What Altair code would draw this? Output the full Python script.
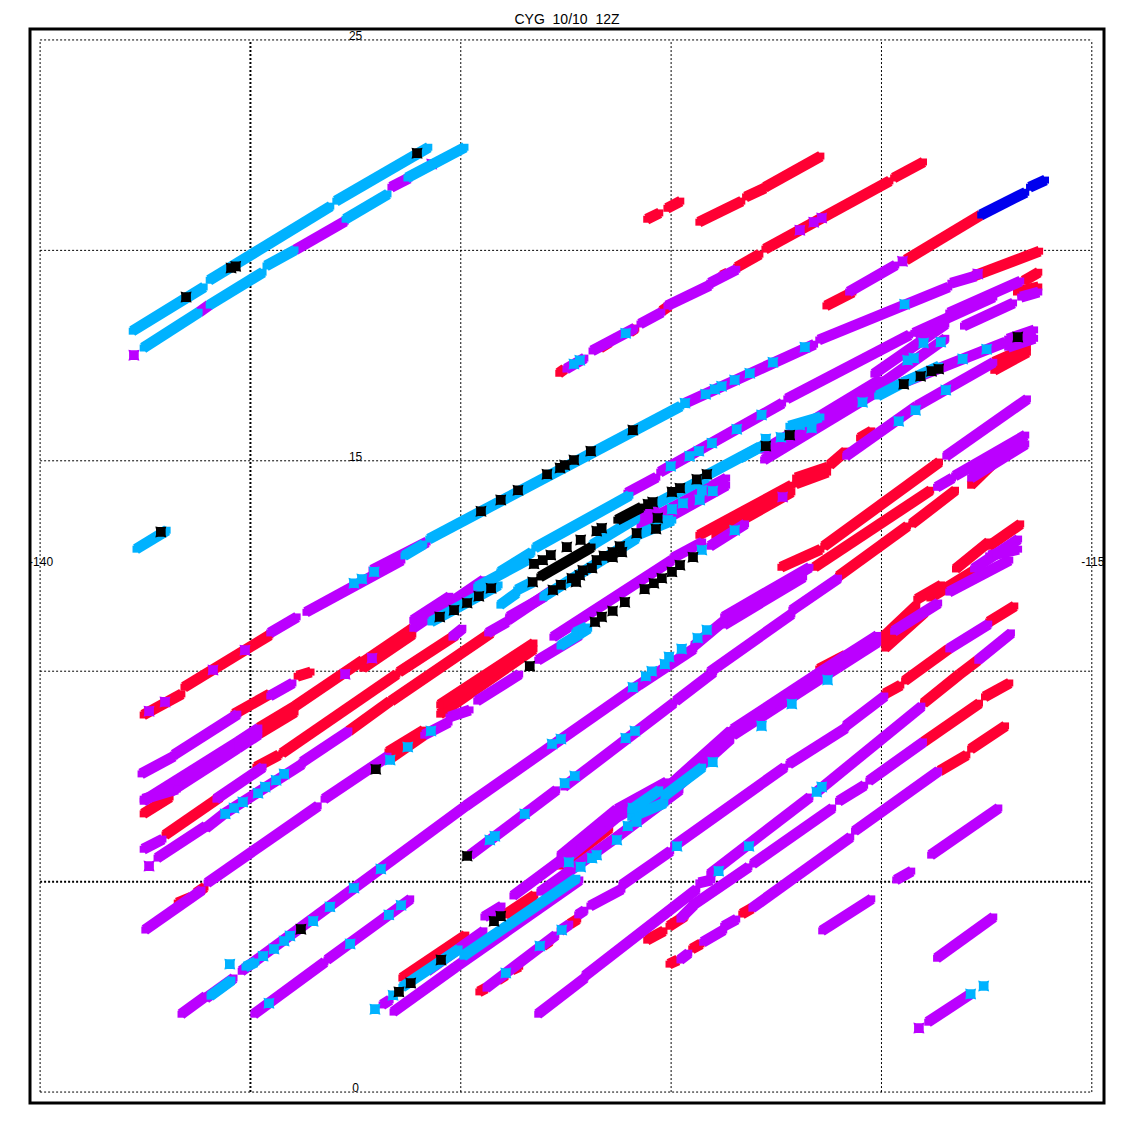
import altair as alt
import pandas as pd

# lon1, lat1, lon2, lat2 of each wind-track piece
red_segments = [
    (-137.55,8.96,-136.63,9.46),(-136.58,9.62,-134.54,10.86),(-135.39,8.98,-134.54,9.46),
    (-133.89,9.88,-133.56,9.98),(-134.80,8.65,-133.94,9.17),(-134.80,8.51,-133.94,9.03),
    (-133.94,9.17,-132.33,10.26),(-132.33,10.21,-131.14,11.02),(-132.33,10.07,-131.14,10.88),
    (-137.55,6.61,-136.91,7.01),(-137.03,6.11,-135.72,7.01),(-134.87,7.72,-134.32,8.01),
    (-134.25,8.05,-131.52,9.93),(-131.66,9.29,-129.28,10.91),(-131.47,9.98,-130.12,10.86),
    (-132.66,8.58,-131.68,9.29),(-131.73,7.89,-130.88,8.48),(-131.73,8.08,-130.88,8.60),
    (-130.50,8.98,-128.26,10.53),(-130.50,9.20,-128.26,10.67),(-136.74,4.49,-136.41,4.63),
    (-136.29,4.73,-136.08,4.87),(-127.67,17.08,-127.53,17.18),(-123.44,19.60,-122.89,19.91),
    (-122.77,20.03,-119.80,21.65),(-119.71,21.72,-119.00,22.10),(-125.58,20.74,-125.27,20.89),
    (-125.10,21.00,-124.77,21.17),(-124.34,20.67,-123.32,21.17),(-123.23,21.27,-122.77,21.48),
    (-122.77,21.50,-121.44,22.24),(-121.32,18.68,-120.68,19.01),(-119.42,19.77,-117.64,20.84),
    (-117.81,19.39,-116.24,19.98),(-116.79,19.01,-116.26,19.13),(-116.62,19.27,-116.26,19.48),
    (-117.33,17.34,-116.53,17.70),(-117.33,17.15,-116.53,17.58),(-121.23,14.90,-120.85,15.23),
    (-120.52,15.54,-120.23,15.71),(-124.34,13.23,-122.13,14.42),(-123.96,13.23,-122.13,14.26),
    (-122.04,14.59,-121.28,14.85),(-122.04,14.45,-121.28,14.73),(-121.37,12.97,-118.62,14.97),
    (-121.59,12.47,-118.83,14.30),(-121.02,12.26,-119.38,13.45),(-119.28,13.50,-118.24,14.30),
    (-122.39,12.47,-121.44,12.90),(-117.88,14.42,-117.33,14.95),(-120.09,10.69,-119.16,11.57),
    (-119.92,10.55,-118.97,11.40),(-119.16,11.71,-118.57,12.05),(-121.49,10.05,-120.85,10.38),
    (-118.24,12.43,-117.45,13.07),(-117.45,12.97,-116.69,13.50),(-118.85,11.74,-117.78,12.40),
    (-119.92,9.46,-119.54,9.67),(-119.45,9.77,-118.40,10.53),(-117.45,11.17,-116.83,11.55),
    (-119.00,8.32,-117.67,9.24),(-117.55,9.39,-116.95,9.72),(-118.62,7.63,-117.97,8.01),
    (-117.88,8.15,-117.05,8.70),(-119.00,9.24,-118.14,9.93),(-118.14,9.93,-117.71,10.26),
    (-131.40,2.71,-129.88,3.73),(-125.05,3.04,-124.84,3.14),(-124.51,3.40,-124.29,3.52),
    (-125.58,3.61,-125.17,3.83),(-123.32,4.23,-123.08,4.37),(-125.05,3.94,-124.67,4.18),
    (-129.57,2.38,-129.40,2.47),(-129.12,2.66,-128.93,2.78),(-128.79,2.90,-128.60,2.99),
    (-128.05,3.47,-127.88,3.59),(-127.41,3.99,-127.22,4.11),(-128.95,4.21,-128.24,4.68),
    (-127.64,5.37,-126.46,6.27),(-126.69,17.68,-126.46,17.82),(-125.98,18.06,-125.84,18.15),
    (-125.22,18.56,-125.05,18.68),(-123.80,19.39,-123.65,19.46),
]

purple_segments = [
    (-134.54,10.91,-133.89,11.29),(-133.68,11.40,-131.40,12.64),(-132.11,12.40,-130.80,13.07),
    (-124.67,16.37,-121.59,17.77),(-121.49,17.87,-118.40,19.13),(-118.35,19.22,-117.76,19.39),
    (-127.50,17.18,-127.05,17.44),(-126.88,17.61,-125.86,18.15),(-125.74,18.25,-125.22,18.53),
    (-125.10,18.68,-124.08,19.17),(-124.08,19.22,-123.44,19.55),(-120.78,19.01,-119.66,19.65),
    (-125.27,14.73,-122.35,16.37),(-122.25,16.47,-119.33,17.99),(-119.23,18.03,-117.33,18.89),
    (-118.40,18.51,-116.69,19.27),(-120.18,17.06,-118.47,18.25),(-120.04,16.80,-118.47,17.91),
    (-118.05,18.20,-116.86,18.75),(-116.69,18.89,-116.26,19.01),(-122.80,15.02,-120.04,16.68),
    (-122.80,15.25,-120.04,16.92),(-119.50,16.85,-117.05,17.82),(-117.00,17.89,-116.36,18.11),
    (-117.00,17.70,-116.36,17.91),(-120.85,15.11,-119.16,16.30),(-119.16,16.30,-117.33,17.34),
    (-126.05,14.23,-125.34,14.61),(-131.14,11.02,-129.45,12.17),(-131.14,11.21,-130.26,11.78),
    (-128.88,11.21,-127.81,11.93),(-125.74,13.28,-123.68,14.42),(-125.74,13.47,-123.68,14.59),
    (-125.79,13.66,-125.34,13.95),(-127.81,10.81,-124.98,12.64),(-124.96,12.69,-124.25,13.07),
    (-124.08,12.97,-123.23,13.50),(-128.86,11.29,-128.00,11.78),(-128.17,10.26,-127.17,10.86),
    (-129.62,9.29,-128.60,9.93),(-130.28,8.91,-129.78,9.08),(-130.88,8.48,-130.28,8.79),
    (-133.25,6.96,-131.73,7.98),(-136.03,4.97,-133.39,6.80),(-137.51,3.85,-136.15,4.80),
    (-137.60,7.56,-136.82,7.98),(-136.82,8.01,-135.30,8.98),(-134.54,9.41,-133.99,9.72),
    (-137.55,6.91,-135.30,8.32),(-136.91,7.13,-135.30,8.17),(-135.30,8.32,-134.80,8.65),
    (-135.30,8.17,-134.80,8.50),(-137.55,6.96,-136.74,7.20),(-136.70,7.29,-136.15,7.67),
    (-135.82,6.96,-134.70,7.72),(-129.36,10.91,-128.90,11.17),(-130.21,10.81,-129.95,11.02),
    (-137.55,5.77,-137.08,6.01),(-137.22,5.56,-136.06,6.32),(-136.06,6.27,-135.63,6.61),
    (-135.63,6.61,-133.77,7.79),(-133.77,7.84,-132.66,8.58),(-135.22,2.87,-129.88,6.80),
    (-129.88,6.80,-125.77,9.67),(-125.77,9.67,-124.46,10.53),(-124.46,10.60,-123.75,11.19),
    (-123.75,11.29,-121.70,12.47),(-123.75,11.10,-121.85,12.24),(-122.13,11.45,-121.02,12.21),
    (-129.78,5.63,-127.72,7.18),(-127.55,7.25,-124.94,9.24),(-124.89,9.29,-123.99,9.98),
    (-124.08,9.98,-122.13,11.36),(-118.69,14.37,-118.31,14.59),(-118.26,14.64,-116.57,15.61),
    (-117.88,14.59,-116.57,15.40),(-118.47,15.11,-116.53,16.47),(-123.53,8.48,-121.42,9.84),
    (-123.53,8.62,-121.42,10.00),(-121.42,9.84,-120.09,10.69),(-121.42,10.00,-120.09,10.85),
    (-119.71,10.95,-118.64,11.62),(-118.40,11.88,-116.95,12.64),(-117.81,12.43,-116.74,13.14),
    (-117.45,12.74,-116.74,12.90),(-125.10,7.03,-123.58,8.39),(-125.10,7.23,-123.58,8.59),
    (-126.29,6.53,-125.10,7.20),(-126.29,6.72,-125.10,7.37),(-127.64,5.42,-126.29,6.53),
    (-127.64,5.61,-126.29,6.72),(-128.76,4.66,-127.17,5.84),(-131.61,1.90,-130.12,2.97),
    (-130.12,2.97,-127.17,5.04),(-130.80,2.87,-129.45,3.83),(-129.45,4.16,-129.02,4.42),
    (-131.87,2.07,-131.68,2.19),(-136.65,1.85,-136.06,2.28),(-136.06,2.23,-135.39,2.71),
    (-134.92,1.85,-133.23,3.09),(-133.18,3.14,-131.19,4.59),(-129.40,2.47,-127.74,3.73),
    (-127.64,3.83,-127.41,3.99),(-127.22,4.21,-127.05,4.32),(-126.93,4.42,-126.17,4.82),
    (-126.17,4.92,-125.01,5.73),(-128.17,1.85,-127.05,2.71),(-127.05,2.76,-124.39,4.82),
    (-124.34,4.97,-124.03,5.04),(-124.08,5.18,-121.70,7.01),(-124.94,5.84,-122.30,7.72),
    (-122.20,7.79,-120.85,8.65),(-120.85,8.70,-119.92,9.41),(-118.40,10.53,-117.45,11.12),
    (-124.51,4.42,-123.15,5.35),(-123.06,5.42,-121.16,6.75),(-121.02,6.91,-120.40,7.29),
    (-120.30,7.39,-119.00,8.32),(-124.79,4.11,-124.46,4.44),(-124.79,3.14,-124.58,3.30),
    (-124.25,3.56,-123.75,3.85),(-123.75,3.94,-123.44,4.11),(-123.08,4.37,-120.73,6.06),
    (-120.64,6.20,-118.64,7.63),(-121.54,7.13,-119.04,9.17),(-117.71,10.26,-116.91,10.91),
    (-121.42,3.83,-120.23,4.59),(-118.83,5.63,-117.21,6.75),(-119.66,5.04,-119.28,5.25),
    (-118.69,3.18,-117.33,4.16),(-118.90,1.66,-117.88,2.33),(-133.94,20.01,-132.75,20.69),
    (-131.66,21.50,-131.23,21.72),(-136.22,18.53,-135.98,18.70),
    (-128.12,4.75,-126.22,6.11),(-126.22,6.11,-124.79,7.18),
]

cyan_segments = [
    (-137.81,18.08,-136.10,19.13),(-135.98,19.29,-133.09,21.05),(-132.97,21.17,-130.76,22.45),
    (-137.55,17.68,-136.22,18.53),(-135.98,18.70,-134.70,19.48),(-134.63,19.63,-133.94,20.01),
    (-132.75,20.74,-131.73,21.34),(-131.28,21.72,-129.90,22.45),(-137.72,12.90,-136.98,13.35),
    (-131.35,12.74,-130.88,13.02),(-130.76,13.14,-124.77,16.30),(-129.07,12.36,-128.31,12.83),
    (-128.24,12.93,-125.98,14.18),(-130.71,11.17,-129.09,12.05),(-129.62,12.00,-128.43,12.64),
    (-129.07,11.57,-128.67,11.86),(-128.67,11.93,-128.29,12.12),(-126.88,13.00,-125.82,13.64),
    (-125.34,13.99,-124.15,14.61),(-124.15,14.66,-122.89,15.33),(-123.37,15.06,-122.80,15.37),
    (-128.05,11.76,-125.82,13.16),(-125.82,13.23,-124.96,13.59),(-127.29,10.91,-127.00,11.05),
    (-127.64,10.60,-126.96,11.02),(-120.09,16.54,-119.50,16.85),(-119.50,16.85,-118.62,17.25),
    (-122.20,15.82,-121.44,16.04),(-125.17,7.03,-124.25,7.72),(-125.96,6.53,-125.15,6.87),
    (-125.96,6.70,-125.27,7.18),
    (-129.95,3.23,-127.24,5.08),(-131.40,2.49,-130.04,3.40),(-135.96,2.28,-135.44,2.66),
    (-135.13,2.97,-134.87,3.09),
]

blue_segments = [(-117.64,20.84,-116.57,21.38),(-116.48,21.50,-116.10,21.67)]
black_segments = [(-128.12,12.24,-126.88,12.95),(-126.29,13.59,-125.70,13.90)]

purple_points = [
    (-137.41,9.05),(-137.03,9.27),(-135.89,10.03),(-135.13,10.50),(-132.75,9.93),(-132.11,10.31),
    (-137.77,17.51),(-121.94,20.48),(-121.61,20.67),(-121.42,20.77),(-119.50,19.74),(-117.71,19.44),
    (-122.35,14.14),(-137.41,5.37),(-119.11,1.52),(-130.69,22.05),
]

cyan_points = [
    (-135.49,3.04),(-132.04,1.97),(-131.61,2.30),(-132.54,12.09),(-132.35,12.19),(-132.06,12.36),
    (-127.31,17.30),(-127.17,17.39),(-126.08,18.03),(-124.67,16.37),(-124.18,16.58),(-123.96,16.70),
    (-123.80,16.77),(-123.49,16.92),(-123.13,17.08),(-122.58,17.34),(-121.82,17.70),(-119.45,18.72),
    (-125.01,14.87),(-124.56,15.11),(-124.34,15.23),(-124.03,15.42),(-123.44,15.75),(-122.85,16.09),
    (-120.45,16.39),(-122.75,15.52),(-122.39,15.56),(-121.94,15.85),(-121.66,15.78),(-119.00,17.80),
    (-118.59,17.82),(-119.38,17.39),(-119.23,17.44),(-118.07,17.42),(-117.50,17.65),(-119.59,15.94),
    (-119.19,16.20),(-118.47,16.68),(-124.27,14.30),(-124.01,14.28),(-124.32,14.07),(-124.72,13.99),
    (-124.98,13.85),(-125.08,13.59),(-123.49,13.35),(-124.27,12.88),(-131.68,7.89),(-131.26,8.20),
    (-130.71,8.58),(-135.60,6.61),(-135.39,6.75),(-135.18,6.89),(-134.82,7.10),(-134.65,7.25),
    (-134.39,7.41),(-134.20,7.56),(-134.70,3.23),(-134.44,3.40),(-134.20,3.59),(-134.06,3.71),
    (-133.51,4.06),(-133.11,4.40),(-132.54,4.85),(-131.90,5.30),(-127.83,8.27),(-127.62,8.39),
    (-125.91,9.62),(-125.60,9.88),(-125.46,10.00),(-125.15,10.17),(-125.05,10.34),(-124.75,10.53),
    (-124.37,10.79),(-124.15,10.98),(-121.28,9.79),(-122.13,9.22),(-122.85,8.70),(-124.01,7.84),
    (-127.53,7.34),(-127.29,7.51),(-126.08,8.41),(-125.86,8.58),(-129.31,5.99),(-129.19,6.08),
    (-128.48,6.61),(-127.43,5.46),(-127.15,5.35),(-126.88,5.56),(-126.77,5.63),(-126.29,5.99),
    (-126.03,6.32),(-125.82,6.42),(-125.91,6.75),(-134.56,2.11),(-132.63,3.52),(-131.71,4.21),
    (-131.42,4.44),(-128.93,2.83),(-128.12,3.47),(-127.60,3.85),(-123.87,5.25),(-123.15,5.84),
    (-124.86,5.84),(-121.54,7.13),(-121.42,7.25),(-117.88,2.33),(-117.57,2.52),
]

black_points = [
    (-136.53,18.89),(-135.46,19.58),(-135.35,19.62),(-131.04,22.31),(-137.13,13.31),(-129.52,13.80),
    (-129.05,14.07),(-128.64,14.30),(-127.95,14.68),(-127.64,14.83),(-127.53,14.90),(-127.31,15.02),
    (-126.91,15.23),(-125.91,15.73),(-130.50,11.29),(-130.16,11.45),(-129.85,11.62),(-129.57,11.78),
    (-129.28,11.97),(-128.29,12.12),(-128.26,12.55),(-128.05,12.64),(-127.86,12.76),(-127.48,12.95),
    (-127.15,13.12),(-126.77,13.33),(-126.65,13.40),(-125.55,13.97),(-125.44,14.02),(-125.32,13.64),
    (-125.36,13.38),(-125.82,13.28),(-124.98,14.26),(-124.79,14.35),(-124.39,14.56),(-124.15,14.68),
    (-127.81,11.93),(-127.62,12.05),(-127.36,12.21),(-127.26,12.12),(-127.17,12.28),(-127.10,12.40),
    (-126.88,12.45),(-126.77,12.64),(-126.60,12.74),(-126.39,12.83),(-126.22,12.97),(-126.39,12.71),
    (-126.17,12.83),(-126.81,11.17),(-126.65,11.29),(-126.39,11.43),(-126.10,11.64),(-125.63,11.95),
    (-125.41,12.09),(-125.22,12.21),(-124.98,12.36),(-124.79,12.52),(-124.48,12.71),(-122.18,15.61),
    (-122.75,15.35),(-119.47,16.82),(-119.07,17.01),(-118.81,17.13),(-118.64,17.18),(-116.76,17.94),
    (-132.02,7.67),(-128.36,10.12),(-129.85,5.61),(-133.80,3.87),(-131.47,2.38),(-131.19,2.59),
    (-130.47,3.14),(-129.21,4.06),(-129.05,4.18),
]

grid_lons = [-140, -130, -125, -120, -115]
heavy_grid_lons = [-135]
grid_lats = [0, 10, 15, 20, 25]
heavy_grid_lats = [5]
lat_labels = ["25", "15", "0"]
lat_label_values = [25, 15, 0]
lon_labels = ["-140", "-115"]
lon_label_values = [-140, -115]
title_text = "CYG\u00a0\u00a010/10\u00a0\u00a012Z"

PURPLE, CYAN, RED, BLUE = "#bb00ff", "#00b2ff", "#ff0033", "#0000ee"

x_scale = alt.Scale(domain=[-140.24, -114.71], nice=False, zero=False)
y_scale = alt.Scale(domain=[-0.26, 25.26], nice=False, zero=False)
X = alt.X("lon1:Q", scale=x_scale, axis=None)
Y = alt.Y("lat1:Q", scale=y_scale, axis=None)
SEG = ["lon1", "lat1", "lon2", "lat2"]
BLOCK = "M-1,-1L-.5,-.88L.5,-.88L1,-1L.88,-.5L.88,.5L1,1L.5,.88L-.5,.88L-1,1L-.88,.5L-.88,-.5Z"


def segs(rows, color):
    df = pd.DataFrame(rows, columns=SEG)
    band = (
        alt.Chart(df)
        .mark_rule(color=color, strokeWidth=11, strokeCap="butt")
        .encode(x=X, y=Y, x2="lon2:Q", y2="lat2:Q")
    )
    ends = pd.concat([
        df[["lon1", "lat1"]],
        df[["lon2", "lat2"]].rename(columns={"lon2": "lon1", "lat2": "lat1"}),
    ])
    blocks = (
        alt.Chart(ends)
        .mark_point(shape="square", filled=True, color=color, opacity=1, size=49)
        .encode(x=X, y=Y)
    )
    return band + blocks


def pts(rows, color):
    return (
        alt.Chart(pd.DataFrame(rows, columns=["lon1", "lat1"]))
        .mark_point(shape=BLOCK, filled=True, color=color, opacity=1, size=120)
        .encode(x=X, y=Y)
    )


def grid(rows, width):
    return (
        alt.Chart(pd.DataFrame(rows, columns=SEG))
        .mark_rule(color="black", strokeWidth=width, strokeDash=[2, 2])
        .encode(x=X, y=Y, x2="lon2:Q", y2="lat2:Q")
    )


def vlines(lons):
    return [(v, grid_lats[0], v, grid_lats[-1]) for v in lons]


def hlines(lats):
    return [(grid_lons[0], v, grid_lons[-1], v) for v in lats]


lat_text = (
    alt.Chart(pd.DataFrame({"lon1": [-132.5] * 3, "lat1": lat_label_values, "t": lat_labels}))
    .mark_text(font="Liberation Sans", fontSize=12, color="black", baseline="bottom", dy=3)
    .encode(x=X, y=Y, text="t:N")
)
lon_text = (
    alt.Chart(pd.DataFrame({"lon1": lon_label_values, "lat1": [12.59, 12.59], "t": lon_labels}))
    .mark_text(font="Liberation Sans", fontSize=12, color="black", clip=True, dx=1)
    .encode(x=X, y=Y, text="t:N")
)
frame = (
    alt.Chart(pd.DataFrame({"a": [0]}))
    .mark_rect(filled=False, stroke="black", strokeWidth=3)
    .encode(x=alt.value(0), x2=alt.value(1074), y=alt.value(0), y2=alt.value(1074))
)

chart = (
    alt.layer(
        grid(vlines(grid_lons) + hlines(grid_lats), 1),
        grid(vlines(heavy_grid_lons) + hlines(heavy_grid_lats), 2),
        lat_text,
        lon_text,
        segs(red_segments, RED),
        segs(purple_segments, PURPLE),
        pts(purple_points, PURPLE),
        segs(cyan_segments, CYAN),
        segs(blue_segments, BLUE),
        pts(cyan_points, CYAN),
        segs(black_segments, "black"),
        pts(black_points, "black"),
        frame,
    )
    .properties(
        width=1074,
        height=1074,
        padding={"left": 22, "top": 21, "right": 14, "bottom": 10},
        autosize=alt.AutoSizeParams(type="none"),
        title=alt.TitleParams(title_text, font="Liberation Sans", fontSize=14,
                              fontWeight="normal", anchor="middle", offset=1, color="black"),
    )
    .configure_view(stroke=None)
)

chart.save("out.html", embed_options={"renderer": "svg", "actions": False})
